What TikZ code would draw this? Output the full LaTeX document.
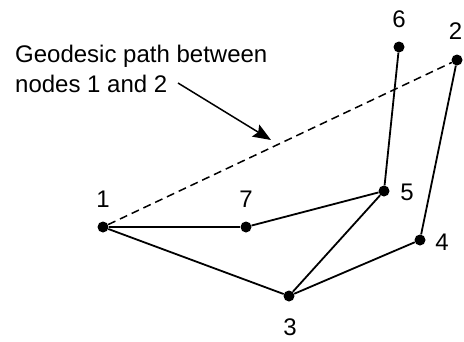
\documentclass[tikz,border=0pt]{standalone}
\usepackage{fontspec}
\setmainfont{Liberation Sans}
\usetikzlibrary{arrows.meta}
\begin{document}
\begin{tikzpicture}[x=1pt,y=-1pt,
 vtx/.style={circle,fill=black,inner sep=0pt,minimum size=11pt},
 lbl/.style={inner sep=0pt,font=\fontsize{24}{28}\selectfont},
 edge/.style={line width=1.8pt},
 geo/.style={line width=1.5pt,dash pattern=on 8pt off 5pt},
 pointer/.style={line width=1.5pt,-{Stealth[length=18pt,width=14pt,inset=3pt]}}]
\useasboundingbox[fill=white] (0,0) rectangle (464,341);
% vertices
\node[vtx] (n1) at (103,227) {};
\node[vtx] (n2) at (457,60) {};
\node[vtx] (n3) at (289,296) {};
\node[vtx] (n4) at (420,240) {};
\node[vtx] (n5) at (384,191) {};
\node[vtx] (n6) at (399,47) {};
\node[vtx] (n7) at (246,227) {};
% labels
\node[lbl] (l1) at (103,199) {1};
\node[lbl] (l2) at (455.5,31) {2};
\node[lbl] (l3) at (290,327) {3};
\node[lbl] (l4) at (442,242) {4};
\node[lbl] (l5) at (407,192) {5};
\node[lbl] (l6) at (399,19) {6};
\node[lbl] (l7) at (246,199) {7};
% edges
\draw[edge] (n1) -- (n7);
\draw[edge] (n7) -- (n5);
\draw[edge] (n1) -- (n3);
\draw[edge] (n3) -- (n5);
\draw[edge] (n3) -- (n4);
\draw[edge] (n4) -- (n2);
\draw[edge] (n5) -- (n6);
\draw[geo] (n1) -- (n2);
% annotation
\node[lbl,anchor=base west] (t1) at (15,62) {Geodesic path between};
\node[lbl,anchor=base west] (t2) at (15,92) {nodes 1 and 2};
\coordinate (as) at (178,83);
\coordinate (ae) at (271,140);
\draw[pointer] (as) -- (ae);
\end{tikzpicture}
\end{document}
